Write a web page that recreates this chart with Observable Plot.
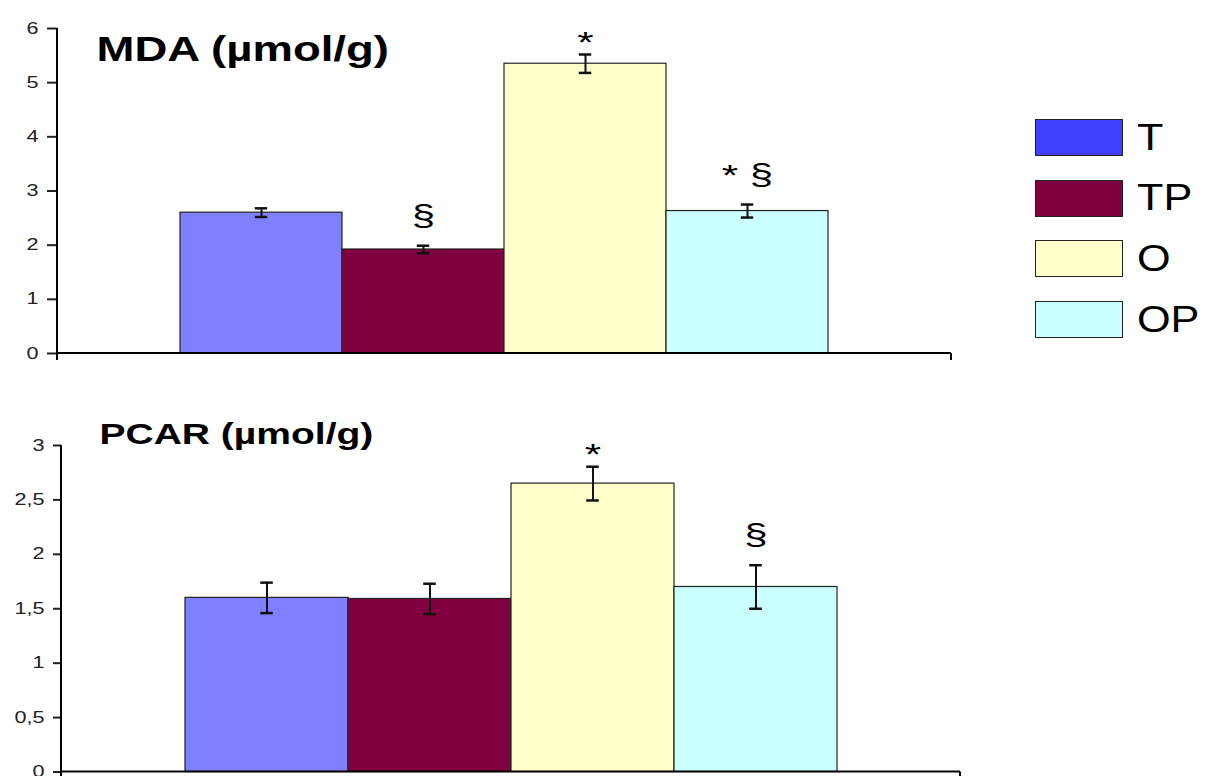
<!DOCTYPE html>
<html>
<head>
<meta charset="utf-8">
<script src="https://cdn.jsdelivr.net/npm/d3@7"></script>
<script src="https://cdn.jsdelivr.net/npm/@observablehq/plot@0.6"></script>
<style>
html, body { margin: 0; padding: 0; background: #fff; width: 1207px; height: 776px; overflow: hidden; }
#wrap { position: relative; width: 1207px; height: 776px; overflow: hidden; }
#top { position: absolute; left: 0; top: 0; }
#bottom { position: absolute; left: 0; top: 400px; }
#legend { position: absolute; left: 1035px; top: 119px; }
.item { display: flex; align-items: center; height: 37px; margin-bottom: 23.7px; }
.sw { width: 86px; height: 35px; border: 1px solid #222; box-sizing: content-box; }
.lab { margin-left: 14px; font-family: "Liberation Sans", Arial, sans-serif; font-size: 36px; line-height: 1;
       display: inline-block; transform: scaleX(1.2); transform-origin: left center; color: #000; }
</style>
</head>
<body>
<div id="wrap">
  <div id="top"></div>
  <div id="bottom"></div>
  <div id="legend"></div>
</div>
<script>
// ---- data ----
const groups = ["T", "TP", "O", "OP"];
const barColors = ["#8080ff", "#800040", "#ffffcc", "#ccffff"];
const legendColors = ["#3f3fff", "#800040", "#ffffcc", "#ccffff"];

const mdaTitle = "MDA (µmol/g)";
const mdaMean = [2.60, 1.92, 5.35, 2.63];
const mdaErr = [0.08, 0.07, 0.17, 0.12];
const mdaSig = ["", "§", "*", "* §"];
const mdaTicks = [0, 1, 2, 3, 4, 5, 6];

const pcarTitle = "PCAR (µmol/g)";
const pcarMean = [1.60, 1.59, 2.65, 1.70];
const pcarErr = [0.14, 0.14, 0.155, 0.20];
const pcarSig = ["", "", "*", "§"];
const pcarTicks = [0, 0.5, 1, 1.5, 2, 2.5, 3];

// ---- helpers ----
const fmt = d => String(d).replace(".", ",");

function panel(o) {
  const rows = groups.map((g, i) => ({g, v: o.mean[i], e: o.err[i], s: o.sig[i]}));
  const step = (o.width - o.ml - o.mr) / (groups.length + 1.5);
  const capInset = (step - 13) / 2;
  const yMax = o.ticks[o.ticks.length - 1];
  const axes = (index, scales, values, dims) => {
    const g = d3.create("svg:g").attr("stroke", "#000").attr("stroke-width", 2).attr("fill", "none");
    const x0 = dims.marginLeft, x1 = dims.width - dims.marginRight;
    const y0 = scales.y(0), yt = scales.y(yMax);
    g.append("line").attr("x1", x0).attr("x2", x0).attr("y1", yt).attr("y2", y0 + 7);
    g.append("line").attr("x1", x0).attr("x2", x1).attr("y1", y0).attr("y2", y0);
    g.append("line").attr("x1", x1).attr("x2", x1).attr("y1", y0).attr("y2", y0 + 7);
    return g.node();
  };
  return Plot.plot({
    width: o.width, height: o.height,
    marginTop: o.mt, marginBottom: o.mb, marginLeft: o.ml, marginRight: o.mr,
    style: {fontFamily: "Liberation Sans, Arial, sans-serif", fontSize: "16px", background: "white", overflow: "visible"},
    x: {domain: groups, paddingInner: 0, paddingOuter: 0.75, axis: null},
    y: {domain: [0, yMax], axis: null},
    color: {domain: groups, range: barColors},
    marks: [
      Plot.barY(rows, {x: "g", y: "v", fill: "g", stroke: "#222", strokeWidth: 1.2}),
      Plot.ruleX(rows, {x: "g", y1: d => d.v - d.e, y2: d => d.v + d.e, stroke: "#111", strokeWidth: 2}),
      Plot.tickY(rows, {x: "g", y: d => d.v + d.e, insetLeft: capInset, insetRight: capInset, stroke: "#111", strokeWidth: 2.5}),
      Plot.tickY(rows, {x: "g", y: d => d.v - d.e, insetLeft: capInset, insetRight: capInset, stroke: "#111", strokeWidth: 2.5}),
      Plot.axisY({ticks: o.ticks, tickSize: o.tickSize, tickPadding: 9, tickFormat: fmt, strokeWidth: 2, color: "#222", label: null}),
      Plot.text(rows.filter(d => d.s && !d.s.includes("§")), {x: "g", y: d => d.v + d.e, text: "s", lineAnchor: "bottom", dy: -3, fontSize: 30, fill: "#000"}),
      Plot.text(rows.filter(d => d.s.includes("§")), {x: "g", y: d => d.v + d.e, text: "s", lineAnchor: "bottom", dy: -20, fontSize: 30, fill: "#000"}),
      Plot.text([o.title], {frameAnchor: "top-left", textAnchor: "start", lineAnchor: "bottom", dx: o.tdx, dy: o.tdy, fontSize: o.tsize, fontWeight: "bold", fill: "#000"}),
      axes
    ]
  });
}

function stretch(root, selector, f) {
  root.querySelectorAll(selector).forEach(t => {
    const L = t.getComputedTextLength();
    if (L > 0) {
      t.setAttribute("textLength", (L * f).toFixed(1));
      t.setAttribute("lengthAdjust", "spacingAndGlyphs");
    }
  });
}

function finish(svg) {
  stretch(svg, 'g[aria-label="y-axis tick label"] text', 1.35);
  stretch(svg, 'g[aria-label="text"][font-weight="bold"] text', 1.3);
  stretch(svg, 'g[aria-label="text"]:not([font-weight="bold"]) text', 1.4);
}

const topPlot = panel({
  mean: mdaMean, err: mdaErr, sig: mdaSig, ticks: mdaTicks, title: mdaTitle,
  width: 960, height: 365, mt: 28, mb: 12, ml: 57, mr: 9, tickSize: 10,
  tsize: 35, tdx: 39, tdy: 32
});
document.getElementById("top").appendChild(topPlot);
finish(topPlot);

const bottomPlot = panel({
  mean: pcarMean, err: pcarErr, sig: pcarSig, ticks: pcarTicks, title: pcarTitle,
  width: 975, height: 390, mt: 45, mb: 18.5, ml: 61, mr: 15, tickSize: 8,
  tsize: 30, tdx: 38, tdy: -2
});
document.getElementById("bottom").appendChild(bottomPlot);
finish(bottomPlot);

// ---- legend ----
const legend = d3.select("#legend");
groups.forEach((g, i) => {
  const item = legend.append("div").attr("class", "item");
  item.append("div").attr("class", "sw").style("background", legendColors[i]);
  item.append("span").attr("class", "lab").text(g);
});
</script>
</body>
</html>
